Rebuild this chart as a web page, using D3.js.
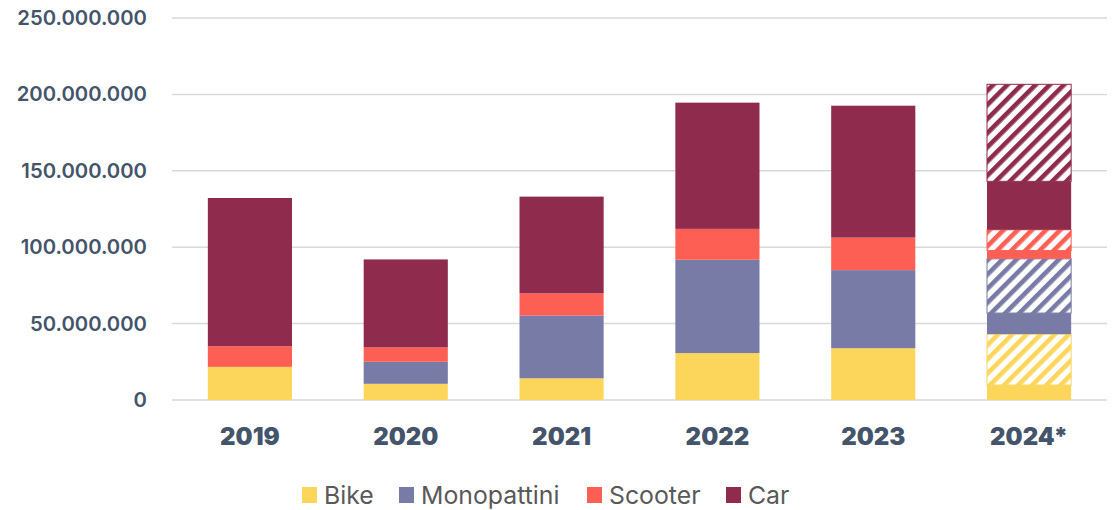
<!DOCTYPE html>
<html>
<head>
<meta charset="utf-8">
<script src="https://cdn.jsdelivr.net/npm/d3@7"></script>
<style>
  html, body { margin: 0; padding: 0; background: #ffffff; }
  svg { display: block; }
</style>
</head>
<body>
<svg id="chart" width="1117" height="510"></svg>
<script>
// ---- data (values in vehicles) ----
const categories = ["2019", "2020", "2021", "2022", "2023", "2024*"];
const bike            = [21.7e6, 10.6e6, 14.2e6, 30.7e6, 33.9e6,  9.8e6];
const bikeForecast    = [0, 0, 0, 0, 0, 33.3e6];
const mono            = [0,      14.4e6, 41.1e6, 61.1e6, 51.1e6, 13.8e6];
const monoForecast    = [0, 0, 0, 0, 0, 35.5e6];
const scooter         = [13.5e6,  9.4e6, 14.5e6, 20.2e6, 21.3e6,  5.4e6];
const scooterForecast = [0, 0, 0, 0, 0, 13.6e6];
const car             = [97.0e6, 57.6e6, 63.3e6, 82.6e6, 86.3e6, 31.7e6];
const carForecast     = [0, 0, 0, 0, 0, 63.5e6];
const yTicks = [0, 50e6, 100e6, 150e6, 200e6, 250e6];
const seriesNames = ["Bike", "Monopattini", "Scooter", "Car"];
const seriesColors = ["#FCD65B", "#787BA6", "#FE5F55", "#8F2B4C"];

(function () {
// ---- build table ----
const keys = ["bike", "bikeF", "mono", "monoF", "scooter", "scooterF", "car", "carF"];
const table = categories.map((c, i) => ({
  cat: c,
  bike: bike[i], bikeF: bikeForecast[i],
  mono: mono[i], monoF: monoForecast[i],
  scooter: scooter[i], scooterF: scooterForecast[i],
  car: car[i], carF: carForecast[i]
}));
const stacked = d3.stack().keys(keys)(table);

const svg = d3.select("#chart");
const mLeft = 172, mRight = 1107, mTop = 18, mBottom = 400;

const x = d3.scaleBand().domain(categories).range([mLeft, mRight])
  .paddingInner(0.46).paddingOuter(0.23);
const y = d3.scaleLinear().domain([0, 250e6]).range([mBottom, mTop]);

const loc = d3.formatLocale({decimal: ",", thousands: ".", grouping: [3], currency: ["", "€"]});
const fmt = loc.format(",.0f");

// patterns
const defs = svg.append("defs");
seriesColors.forEach((col, i) => {
  const p = defs.append("pattern")
    .attr("id", "hatch" + i)
    .attr("patternUnits", "userSpaceOnUse")
    .attr("width", 10).attr("height", 10)
    .attr("patternTransform", "rotate(45)");
  p.append("rect").attr("width", 10).attr("height", 10).attr("fill", "#ffffff");
  p.append("rect").attr("width", 4.6).attr("height", 10).attr("fill", col);
});

// gridlines
svg.append("g")
  .selectAll("line").data(yTicks).join("line")
  .attr("x1", mLeft).attr("x2", mRight)
  .attr("y1", d => y(d)).attr("y2", d => y(d))
  .attr("stroke", "#D9D9D9").attr("stroke-width", 1.5);

// y axis labels via d3 axis
const yAxis = svg.append("g")
  .attr("transform", `translate(${mLeft - 25},0)`)
  .call(d3.axisLeft(y).tickValues(yTicks).tickFormat(fmt).tickSize(0).tickPadding(0));
yAxis.select(".domain").remove();
yAxis.selectAll("text")
  .attr("fill", "#44546A")
  .style("font-family", "Inter, 'Open Sans', sans-serif")
  .style("font-weight", "600")
  .style("font-size", "20.3px");

// bars
stacked.forEach((layer, li) => {
  const s = Math.floor(li / 2);
  const isForecast = li % 2 === 1;
  svg.append("g")
    .selectAll("rect").data(layer.filter(d => d[1] - d[0] > 0)).join("rect")
    .attr("x", d => x(d.data.cat))
    .attr("width", x.bandwidth())
    .attr("y", d => y(d[1]))
    .attr("height", d => y(d[0]) - y(d[1]))
    .attr("fill", isForecast ? `url(#hatch${s})` : seriesColors[s])
    .attr("stroke", isForecast ? seriesColors[s] : "none")
    .attr("stroke-width", isForecast ? 1 : 0);
});

// x axis labels
const xAxis = svg.append("g")
  .attr("transform", `translate(0,${mBottom})`)
  .call(d3.axisBottom(x).tickSize(0).tickPadding(0));
xAxis.select(".domain").remove();
xAxis.selectAll("text")
  .attr("y", 44.5)
  .attr("dy", null)
  .attr("fill", "#44546A")
  .style("font-family", "Inter, 'Liberation Sans', sans-serif")
  .style("font-weight", "900")
  .style("font-size", "24px");

// legend
const legendX = [302, 399, 587, 726];
const lg = svg.append("g");
seriesNames.forEach((name, i) => {
  const g = lg.append("g").attr("transform", `translate(${legendX[i]},487)`);
  g.append("rect").attr("width", 15).attr("height", 16).attr("fill", seriesColors[i]);
  g.append("text").attr("x", 22).attr("y", 8).attr("dy", "0.36em")
    .attr("fill", "#595959")
    .style("font-family", "Inter, 'Open Sans', sans-serif")
    .style("font-size", "24.8px")
    .text(name);
});
})();
</script>
</body>
</html>
